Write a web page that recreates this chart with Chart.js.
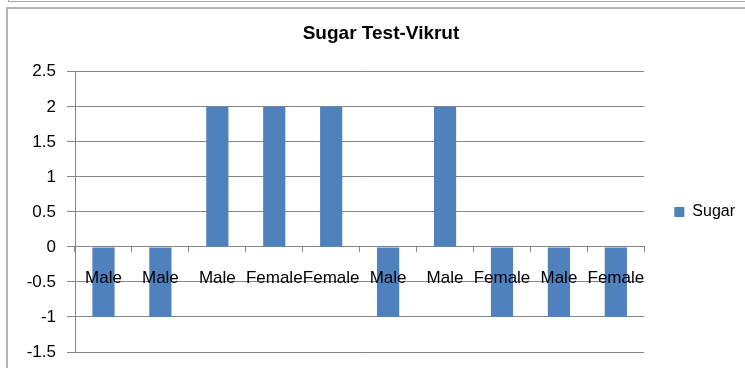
<!DOCTYPE html>
<html>
<head>
<meta charset="utf-8">
<title>Sugar Test-Vikrut</title>
<script src="https://cdn.jsdelivr.net/npm/chart.js"></script>
<style>
    body { margin: 0; background: #fff; overflow: hidden; }
    #wrap { position: relative; width: 745px; height: 368px; }
    .frame { position: absolute; box-sizing: border-box; }
    #outer { left: 8px; top: -10px; width: 800px; height: 12px; border: 1px solid #a8a8a8; }
    #box { left: 6px; top: 7px; width: 800px; height: 400px; border-left: 2px solid #b4b4b4; border-top: 2px solid #b4b4b4; }
    canvas { position: absolute; left: 0; top: 0; }
</style>
</head>
<body>
<div id="wrap">
    <div class="frame" id="outer"></div>
    <div class="frame" id="box"></div>
    <canvas id="chart" width="745" height="368"></canvas>
</div>
<script>
const categories = ['Male', 'Male', 'Male', 'Female', 'Female', 'Male', 'Male', 'Female', 'Male', 'Female'];
const sugar = [-1, -1, 2, 2, 2, -1, 2, -1, -1, -1];
const yMin = -1.5;
const yMax = 2.5;
const yStep = 0.5;

const axisGrey = '#868686';
const fontFamily = '"Liberation Sans", Arial, sans-serif';

new Chart(document.getElementById('chart'), {
    type: 'bar',
    data: {
        labels: categories,
        datasets: [{
            label: 'Sugar',
            data: sugar,
            backgroundColor: '#4F81BD',
            borderWidth: 0,
            categoryPercentage: 1,
            barPercentage: 0.39
        }]
    },
    options: {
        responsive: false,
        animation: false,
        // left padding pushes the title centre to the right like the chart frame does
        layout: { padding: { left: 17, right: 0, top: 0, bottom: 16 } },
        plugins: {
            title: {
                display: true,
                text: 'Sugar Test-Vikrut',
                color: '#000',
                font: { family: fontFamily, size: 19, weight: 'bold' },
                padding: { top: 22, bottom: 27 }
            },
            legend: {
                position: 'right',
                fullSize: false,
                labels: {
                    color: '#000',
                    font: { family: fontFamily, size: 16 },
                    boxWidth: 10,
                    boxHeight: 10,
                    padding: 30
                }
            },
            tooltip: { enabled: false }
        },
        scales: {
            x: {
                position: { y: 0 },
                grid: { drawOnChartArea: false, offset: true, tickLength: 5, color: axisGrey },
                border: { color: axisGrey },
                ticks: {
                    z: 1, // category names sit on top of the bars
                    color: '#000',
                    font: { family: fontFamily, size: 17 },
                    padding: 16,
                    maxRotation: 0,
                    autoSkip: false
                }
            },
            y: {
                min: yMin,
                max: yMax,
                afterFit(scale) {
                    scale.width = 58;
                    scale.paddingBottom = 0;
                },
                grid: { color: axisGrey, tickLength: 8 },
                border: { color: axisGrey },
                ticks: {
                    stepSize: yStep,
                    color: '#000',
                    font: { family: fontFamily, size: 17 },
                    padding: 11,
                    callback: (v) => String(v)
                }
            }
        }
    }
});
</script>
</body>
</html>
